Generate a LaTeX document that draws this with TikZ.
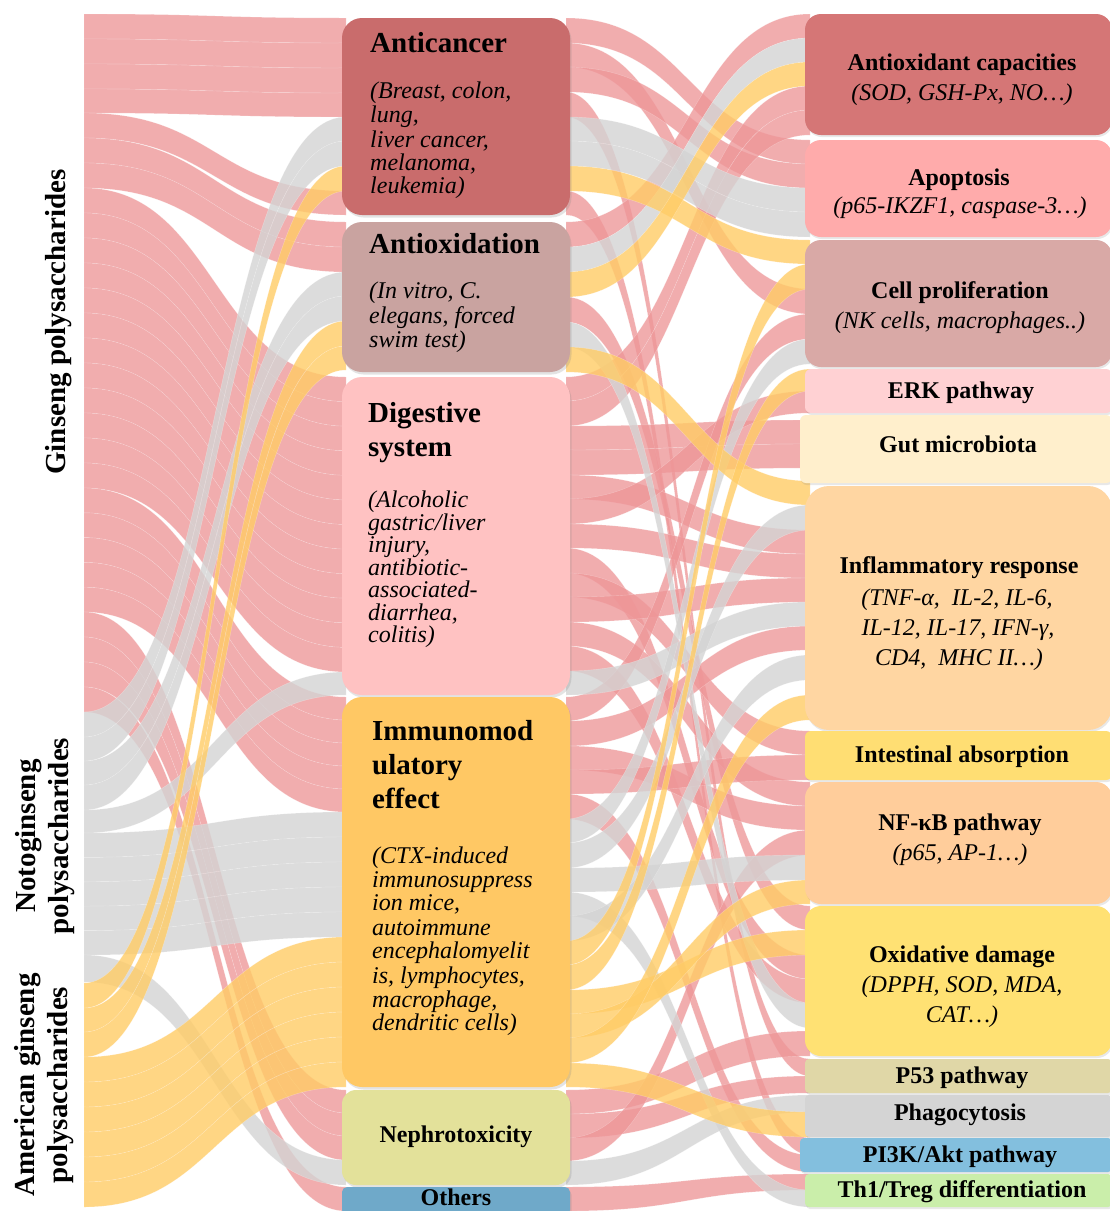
\documentclass[tikz,border=0pt]{standalone}
\usepackage{fontspec}
\setmainfont{Liberation Serif}
\usetikzlibrary{shadows}
\definecolor{flowpink}{HTML}{EE9698}
\definecolor{flowgray}{HTML}{D4D4D4}
\definecolor{flowyel}{HTML}{FFCC66}
\definecolor{cAnticancer}{HTML}{C96C6C}
\definecolor{cAntiox}{HTML}{C9A3A0}
\definecolor{cDigest}{HTML}{FFC2C2}
\definecolor{cImmuno}{HTML}{FFC864}
\definecolor{cNephro}{HTML}{E3E19A}
\definecolor{cOthers}{HTML}{6FA9C9}
\definecolor{cAntcap}{HTML}{D57676}
\definecolor{cApop}{HTML}{FFABAB}
\definecolor{cCellp}{HTML}{D9A9A6}
\definecolor{cErk}{HTML}{FFD1D3}
\definecolor{cGut}{HTML}{FFEFCC}
\definecolor{cInfl}{HTML}{FFD6A2}
\definecolor{cIntest}{HTML}{FFDE73}
\definecolor{cNfkb}{HTML}{FFCD9B}
\definecolor{cOxid}{HTML}{FFE173}
\definecolor{cPfiftythree}{HTML}{E0D7A7}
\definecolor{cPhago}{HTML}{D4D4D4}
\definecolor{cPik}{HTML}{83BFDE}
\definecolor{cThone}{HTML}{CAEEAA}
\newcommand\sankeyrib[7]{%
  \pgfmathsetmacro\xmid{(#1+#4)/2}%
  \path[#7] (#1,#2) .. controls (\xmid,#2) and (\xmid,#5) .. (#4,#5) -- (#4,#6) .. controls (\xmid,#6) and (\xmid,#3) .. (#1,#3) -- cycle;}
\newcommand\ltxt[5]{\node[#4,anchor=base west,inner sep=0pt] (#1) at (#2,#3) {#5};}
\newcommand\ctxt[5]{\node[#4,anchor=base,inner sep=0pt] (#1) at (#2,#3) {#5};}
\tikzset{
  pf/.style={fill=flowpink, fill opacity=0.78, draw=white, draw opacity=0.3, line width=0.4pt},
  gf/.style={fill=flowgray, fill opacity=0.8, draw=white, draw opacity=0.3, line width=0.4pt},
  yf/.style={fill=flowyel, fill opacity=0.8, draw=white, draw opacity=0.3, line width=0.4pt},
  mbox/.style={rounded corners=20pt, inner sep=0pt, outer sep=0pt, minimum width=228pt,
     drop shadow={opacity=0.22, shadow xshift=1.5pt, shadow yshift=-2.5pt}},
  rbox/.style={rounded corners=16pt, inner sep=0pt, outer sep=0pt, minimum width=307pt,
     drop shadow={opacity=0.18, shadow xshift=1pt, shadow yshift=-2pt}},
  sbox/.style={rbox, rounded corners=6pt},
  mtitle/.style={font=\fontsize{29}{32}\selectfont\bfseries},
  msub/.style={font=\fontsize{24}{24}\selectfont\itshape},
  rtitle/.style={font=\fontsize{24}{26}\selectfont\bfseries},
  rsub/.style={font=\fontsize{24}{26}\selectfont\itshape},
  lab/.style={font=\fontsize{29}{33}\selectfont\bfseries, inner sep=0pt}
}
\begin{document}
\begin{tikzpicture}[x=1pt,y=-1pt]
\useasboundingbox (0,0) rectangle (1110,1211);
\fill[white] (0,0) rectangle (1110,1211);
% ---------- left -> middle : pink ----------
\sankeyrib{84}{14}{39}{346}{18}{43}{pf}
\sankeyrib{84}{39}{64}{346}{43}{68}{pf}
\sankeyrib{84}{64}{89}{346}{68}{93}{pf}
\sankeyrib{84}{89}{113}{346}{93}{117}{pf}
\sankeyrib{84}{113}{138}{346}{191}{215}{pf}
\sankeyrib{84}{138}{163}{346}{222}{247}{pf}
\sankeyrib{84}{163}{188}{346}{247}{272}{pf}
\foreach \k in {0,...,11} {\sankeyrib{84}{188+25*\k}{213+25*\k}{346}{377+24.58*\k}{401.58+24.58*\k}{pf}}
\foreach \k in {0,...,4} {\sankeyrib{84}{488+24.8*\k}{512.8+24.8*\k}{346}{697+23*\k}{720+23*\k}{pf}}
\sankeyrib{84}{612}{637}{346}{1090}{1113}{pf}
\sankeyrib{84}{637}{662}{346}{1113}{1136}{pf}
\sankeyrib{84}{662}{687}{346}{1136}{1160}{pf}
\sankeyrib{84}{687}{712}{346}{1187}{1211}{pf}
% ---------- middle -> right : pink ----------
\sankeyrib{566}{18}{43}{810}{140}{164}{pf}
\sankeyrib{566}{43}{67}{810}{289}{314}{pf}
\sankeyrib{566}{67}{92}{810}{164}{188}{pf}
\sankeyrib{566}{92}{117}{810}{1059}{1076}{pf}
\sankeyrib{566}{191}{215}{810}{1138}{1155}{pf}
\sankeyrib{566}{222}{247}{810}{14}{38}{pf}
\sankeyrib{566}{297}{322}{810}{906}{930}{pf}
\sankeyrib{566}{377}{401}{810}{86}{110}{pf}
\sankeyrib{566}{401}{426}{810}{110}{135}{pf}
\sankeyrib{566}{426}{450}{810}{420}{444}{pf}
\sankeyrib{566}{450}{475}{810}{444}{468}{pf}
\sankeyrib{566}{475}{499}{810}{530}{554}{pf}
\sankeyrib{566}{499}{524}{810}{391}{413}{pf}
\sankeyrib{566}{524}{548}{810}{554}{578}{pf}
\sankeyrib{566}{548}{573}{810}{955}{979}{pf}
\sankeyrib{566}{573}{597}{810}{731}{755}{pf}
\sankeyrib{566}{597}{622}{810}{578}{602}{pf}
\sankeyrib{566}{622}{646}{810}{782}{806}{pf}
\sankeyrib{566}{646}{671}{810}{979}{1003}{pf}
\sankeyrib{566}{697}{721}{810}{314}{339}{pf}
\sankeyrib{566}{721}{746}{810}{626}{650}{pf}
\sankeyrib{566}{746}{770}{810}{806}{830}{pf}
\sankeyrib{566}{770}{794}{810}{755}{780}{pf}
\sankeyrib{566}{794}{819}{810}{1155}{1172}{pf}
\sankeyrib{566}{1090}{1114}{810}{1031}{1056}{pf}
\sankeyrib{566}{1114}{1138}{810}{1076}{1093}{pf}
\sankeyrib{566}{1138}{1161}{810}{830}{855}{pf}
\sankeyrib{566}{1187}{1211}{810}{1174}{1190}{pf}
% ---------- gray ----------
\sankeyrib{84}{712}{737}{346}{117}{141}{gf}
\sankeyrib{84}{737}{761}{346}{141}{166}{gf}
\sankeyrib{84}{761}{785}{346}{272}{296}{gf}
\sankeyrib{84}{785}{810}{346}{296}{321}{gf}
\sankeyrib{84}{810}{833}{346}{672}{695}{gf}
\foreach \k in {0,...,4} {\sankeyrib{84}{833+24.4*\k}{857.4+24.4*\k}{346}{812+25*\k}{837+25*\k}{gf}}
\sankeyrib{84}{955}{982}{346}{1160}{1185}{gf}
\sankeyrib{566}{117}{141}{810}{188}{212}{gf}
\sankeyrib{566}{141}{166}{810}{212}{237}{gf}
\sankeyrib{566}{247}{272}{810}{38}{62}{gf}
\sankeyrib{566}{322}{347}{810}{1003}{1028}{gf}
\sankeyrib{566}{671}{695}{810}{602}{626}{gf}
\sankeyrib{566}{819}{843}{810}{339}{364}{gf}
\sankeyrib{566}{843}{868}{810}{505}{530}{gf}
\sankeyrib{566}{868}{892}{810}{855}{880}{gf}
\sankeyrib{566}{892}{916}{810}{1190}{1207}{gf}
\sankeyrib{566}{916}{941}{810}{655}{680}{gf}
\sankeyrib{566}{1161}{1185}{810}{1095}{1112}{gf}
% ---------- yellow ----------
\sankeyrib{84}{983}{1008}{346}{166}{191}{yf}
\sankeyrib{84}{1008}{1032}{346}{321}{346}{yf}
\sankeyrib{84}{1032}{1057}{346}{346}{370}{yf}
\foreach \k in {0,...,5} {\sankeyrib{84}{1057+25*\k}{1082+25*\k}{346}{937+25*\k}{962+25*\k}{yf}}
\sankeyrib{566}{166}{191}{810}{240}{264}{yf}
\sankeyrib{566}{272}{297}{810}{62}{86}{yf}
\sankeyrib{566}{347}{372}{810}{481}{505}{yf}
\sankeyrib{566}{941}{965}{810}{264}{289}{yf}
\sankeyrib{566}{965}{990}{810}{369}{391}{yf}
\sankeyrib{566}{990}{1014}{810}{930}{955}{yf}
\sankeyrib{566}{1014}{1038}{810}{880}{904}{yf}
\sankeyrib{566}{1038}{1063}{810}{695}{720}{yf}
\sankeyrib{566}{1063}{1087}{810}{1112}{1137}{yf}
% ---------- middle boxes ----------
\node[mbox, fill=cAnticancer, minimum height=197pt] (anticancer) at (456,116.5) {};
\node[mbox, fill=cAntiox, minimum height=150pt] (antiox) at (456,297) {};
\node[mbox, fill=cDigest, minimum height=318pt] (digest) at (456,536) {};
\node[mbox, fill=cImmuno, minimum height=390pt] (immuno) at (456,892) {};
\node[mbox, rounded corners=14pt, fill=cNephro, minimum height=95pt] (nephro) at (456,1137.5) {};
\node[mbox, rounded corners=5pt, fill=cOthers, minimum height=28pt] (others) at (456,1201) {};
% ---------- right boxes ----------
\node[rbox, fill=cAntcap, minimum height=121pt] (antcap) at (958.5,74.5) {};
\node[rbox, fill=cApop, minimum height=97pt] (apop) at (958.5,188.5) {};
\node[rbox, fill=cCellp, minimum height=127pt] (cellp) at (958.5,303.5) {};
\node[sbox, fill=cErk, minimum height=44pt] (erk) at (958.5,391) {};
\node[sbox, fill=cGut, minimum width=312pt, minimum height=68pt] (gut) at (956,449) {};
\node[rbox, rounded corners=24pt, fill=cInfl, minimum height=244pt] (infl) at (958.5,608) {};
\node[sbox, fill=cIntest, minimum height=49pt] (intest) at (958.5,755.5) {};
\node[rbox, fill=cNfkb, minimum height=122pt] (nfkb) at (958.5,843) {};
\node[rbox, fill=cOxid, minimum height=150pt] (oxid) at (958.5,981) {};
\node[sbox, rounded corners=4pt, fill=cPfiftythree, minimum height=34pt] (pfiftythree) at (958.5,1076) {};
\node[sbox, rounded corners=4pt, fill=cPhago, minimum height=42pt] (phago) at (958.5,1116) {};
\node[sbox, rounded corners=4pt, fill=cPik, minimum width=312pt, minimum height=34pt] (pik) at (956,1155) {};
\node[sbox, rounded corners=4pt, fill=cThone, minimum height=33pt] (thone) at (958.5,1190.5) {};
% ---------- left labels ----------
\node[lab, rotate=90] (ginseng) at (59,322) {Ginseng polysaccharides};
\node[lab, rotate=90, align=center] (noto) at (45,836) {Notoginseng\\polysaccharides};
\node[lab, rotate=90, align=center] (amer) at (44,1085) {American ginseng\\polysaccharides};
% ---------- middle texts ----------
\ltxt{t1}{370}{52}{mtitle}{Anticancer}
\ltxt{t1a}{370}{98}{msub}{(Breast, colon,}
\ltxt{t1b}{370}{122}{msub}{lung,}
\ltxt{t1c}{370}{147}{msub}{liver cancer,}
\ltxt{t1d}{370}{170}{msub}{melanoma,}
\ltxt{t1e}{370}{193}{msub}{leukemia)}
\ltxt{t2}{369}{253}{mtitle}{Antioxidation}
\ltxt{t2a}{369}{298}{msub}{(In vitro, C.}
\ltxt{t2b}{369}{323}{msub}{elegans, forced}
\ltxt{t2c}{369}{347}{msub}{swim test)}
\ltxt{t3}{368}{422}{mtitle}{Digestive}
\ltxt{t3x}{368}{456}{mtitle}{system}
\ltxt{t3a}{368}{507}{msub}{(Alcoholic}
\ltxt{t3b}{368}{530}{msub}{gastric/liver}
\ltxt{t3c}{368}{552}{msub}{injury,}
\ltxt{t3d}{368}{575}{msub}{antibiotic-}
\ltxt{t3e}{368}{597}{msub}{associated-}
\ltxt{t3f}{368}{620}{msub}{diarrhea,}
\ltxt{t3g}{368}{642}{msub}{colitis)}
\ltxt{t4}{372}{740}{mtitle}{Immunomod}
\ltxt{t4x}{372}{774}{mtitle}{ulatory}
\ltxt{t4y}{372}{808}{mtitle}{effect}
\ltxt{t4a}{372}{863}{msub}{(CTX-induced}
\ltxt{t4b}{372}{887}{msub}{immunosuppress}
\ltxt{t4c}{372}{910}{msub}{ion mice,}
\ltxt{t4d}{372}{935}{msub}{autoimmune}
\ltxt{t4e}{372}{958}{msub}{encephalomyelit}
\ltxt{t4f}{372}{983}{msub}{is, lymphocytes,}
\ltxt{t4g}{372}{1007}{msub}{macrophage,}
\ltxt{t4h}{372}{1030}{msub}{dendritic cells)}
\ctxt{t5}{456}{1142}{rtitle}{Nephrotoxicity}
\ctxt{t6}{456}{1205}{rtitle}{Others}
% ---------- right texts ----------
\ctxt{r1}{962}{70}{rtitle}{Antioxidant capacities}
\ctxt{r1a}{962}{100}{rsub}{(SOD, GSH-Px, NO…)}
\ctxt{r2}{959}{185}{rtitle}{Apoptosis}
\ctxt{r2a}{960}{213}{rsub}{(p65-IKZF1, caspase-3…)}
\ctxt{r3}{960}{298}{rtitle}{Cell proliferation}
\ctxt{r3a}{960}{328}{rsub}{(NK cells, macrophages..)}
\ctxt{r4}{961}{398}{rtitle}{ERK pathway}
\ctxt{r5}{958}{452}{rtitle}{Gut microbiota}
\ctxt{r6}{959}{573}{rtitle}{Inflammatory response}
\ctxt{r6a}{957}{605}{rsub}{(TNF-α,\ \ IL-2, IL-6,}
\ctxt{r6b}{958}{635}{rsub}{IL-12, IL-17, IFN-γ,}
\ctxt{r6c}{959}{665}{rsub}{CD4,\ \ MHC II…)}
\ctxt{r7}{962}{762}{rtitle}{Intestinal absorption}
\ctxt{r8}{960}{830}{rtitle}{NF-κB pathway}
\ctxt{r8a}{960}{860}{rsub}{(p65, AP-1…)}
\ctxt{r9}{962}{962}{rtitle}{Oxidative damage}
\ctxt{r9a}{962}{992}{rsub}{(DPPH, SOD, MDA,}
\ctxt{r9b}{962}{1022}{rsub}{CAT…)}
\ctxt{r10}{962}{1083}{rtitle}{P53 pathway}
\ctxt{r11}{960}{1120}{rtitle}{Phagocytosis}
\ctxt{r12}{960}{1162}{rtitle}{PI3K/Akt pathway}
\ctxt{r13}{962}{1197}{rtitle}{Th1/Treg differentiation}
\end{tikzpicture}
\end{document}
